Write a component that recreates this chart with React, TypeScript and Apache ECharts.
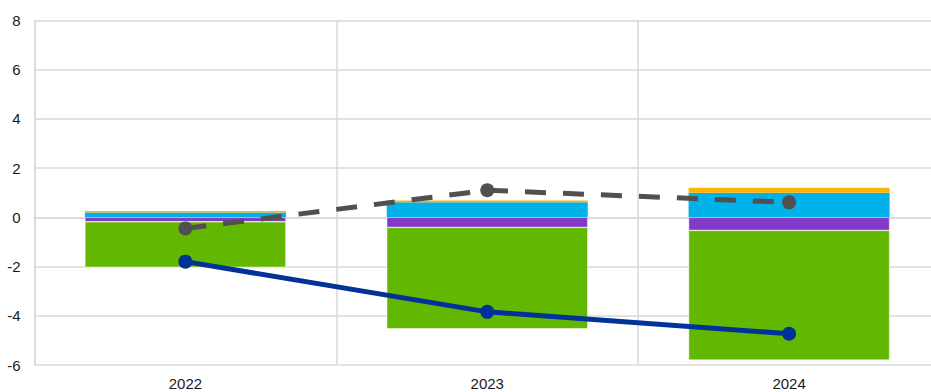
import React, { useEffect, useRef } from "react";
import * as echarts from "echarts";

const categories = ["2022", "2023", "2024"];
const purpleSeries = [-0.18, -0.41, -0.53];
const greenSeries = [-1.85, -4.12, -5.27];
const blueSeries = [0.2, 0.61, 1.0];
const orangeSeries = [0.06, 0.08, 0.2];
const greyLine = [-0.45, 1.1, 0.61];
const blueLine = [-1.8, -3.84, -4.73];

export default function App() {
  const ref = useRef<HTMLDivElement>(null);
  useEffect(() => {
    if (!ref.current) return;
    const chart = echarts.init(ref.current, null, { renderer: "svg" });
    const barCommon = {
      type: "bar",
      stack: "total",
      barWidth: "66.6%",
    };
    chart.setOption({
      animation: false,
      backgroundColor: "#ffffff",
      textStyle: { fontFamily: "Liberation Sans, Arial, sans-serif" },
      grid: { left: 34.5, right: 0, top: 20.5, bottom: 27 },
      xAxis: {
        type: "category",
        data: categories,
        boundaryGap: true,
        axisLine: { show: true, lineStyle: { color: "#d9d9d9", width: 1.5 } },
        axisTick: { show: false },
        splitLine: { show: true, lineStyle: { color: "#d9d9d9", width: 1.5 } },
        axisLabel: { color: "#1a1a1a", fontSize: 15, margin: 11 },
      },
      yAxis: {
        type: "value",
        min: -6,
        max: 8,
        interval: 2,
        axisLine: { show: true, lineStyle: { color: "#d9d9d9", width: 1.5 } },
        axisTick: { show: false },
        splitLine: { show: true, lineStyle: { color: "#d9d9d9", width: 1.5 } },
        axisLabel: { color: "#1a1a1a", fontSize: 15, margin: 14 },
      },
      series: [
        { ...barCommon, name: "purple", data: purpleSeries, itemStyle: { color: "#8139c6", borderColor: "#ffffff", borderWidth: 0.5 } },
        { ...barCommon, name: "green", data: greenSeries, itemStyle: { color: "#62b800", borderColor: "#ffffff", borderWidth: 0.5 } },
        { ...barCommon, name: "blue", data: blueSeries, itemStyle: { color: "#00b1ea" } },
        { ...barCommon, name: "orange", data: orangeSeries, itemStyle: { color: "#ffb400" } },
        {
          type: "line",
          name: "grey",
          data: greyLine,
          z: 5,
          symbol: "circle",
          symbolSize: 14,
          lineStyle: { color: "#505050", width: 5, type: [21, 17] },
          itemStyle: { color: "#505050" },
        },
        {
          type: "line",
          name: "navy",
          data: blueLine,
          z: 5,
          symbol: "circle",
          symbolSize: 14,
          lineStyle: { color: "#003299", width: 5 },
          itemStyle: { color: "#003299" },
        },
      ],
    });
    return () => chart.dispose();
  }, []);
  return (
    <div style={{ position: "fixed", left: 0, top: 0, width: 931, height: 392, overflow: "hidden" }}>
      <div ref={ref} style={{ width: 940, height: 392 }} />
    </div>
  );
}
